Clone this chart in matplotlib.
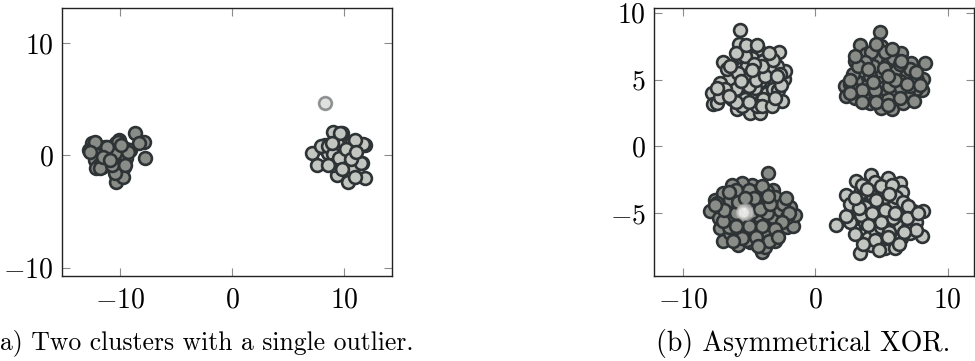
import matplotlib
matplotlib.use("Agg")
import matplotlib.pyplot as plt
from matplotlib.ticker import FixedLocator

plt.rcParams['mathtext.fontset'] = 'cm'
plt.rcParams['font.family'] = ['cmr10', 'DejaVu Serif']

# ---------------- data (a): two clusters with an outlier ----------------
a_left_x = [-12.5, -12.8, -12.05, -11.3, -10.4, -10.1, -9.5, -9.08, -12.2, -11.9,
            -11.45, -10.7, -10.1, -9.67, -10.4, -9.8, -10.4, -11.0, -10.6, -11.6,
            -9.5, -8.63, -7.89, -8.34, -7.74, -12.2, -12.7, -9.7, -10.45, -12.1,
            -11.8, -10.75, -10.45, -10.15, -11.2, -9.26, -9.55, -11.5, -10.9, -9.9]
a_left_y = [1.07, 0.47, 0.32, 0.77, 1.07, 1.37, 0.62, 0.47, -0.42, -0.87,
            -0.27, -0.87, -0.57, -1.02, -1.76, -1.76, -2.36, 0.18, 0.03, -1.02,
            -0.27, 1.96, 1.21, 1.07, -0.27, 1.2, 0.3, -1.9, -1.6, -1.16,
            -1.16, -0.87, 0.18, 1.22, 0.77, 0.32, -0.87, -0.12, -0.4, 0.9]
a_right_x = [9.05, 9.79, 11.88, 10.69, 9.35, 8.30, 7.93, 7.18, 7.62, 8.6,
             9.35, 10.4, 9.05, 9.94, 10.83, 11.58, 9.35, 10.4, 11.88, 10.98,
             9.64, 11.7, 10.98, 7.99, 8.6, 9.05, 9.05, 11.5, 8.6, 9.6,
             10.2, 9.8, 10.6, 8.9, 11.1]
a_right_y = [2.11, 1.96, 0.92, 1.21, 1.07, 0.92, 0.77, 0.18, -0.87, 0.18,
             0.18, 0.18, -0.87, -0.57, -1.16, -0.71, -1.76, -2.36, -2.05, -1.9,
             1.96, 0.98, 1.37, 0.86, 0.86, 0.12, -0.87, -0.71, -0.87, -0.2,
             0.6, -1.2, -0.3, 1.1, 0.3]
a_outlier_x = [8.30]
a_outlier_y = [4.64]

# ---------------- data (b): asymmetrical XOR ----------------
b_tl_x = [-5.67, -5.75, -4.84, -4.29, -2.74, -6.93, -7.81, -7.73, -5.92, -4.92,
          -4.17, -2.54, -2.36, -2.28, -6.80, -5.55, -4.79, -3.54, -4.42, -4.92,
          -3.66, -5.30, -6.17, -5.17, -4.17, -3.04, -2.91, -3.92, -6.17, -6.55,
          -5.67, -5.30, -3.16, -7.18, -3.92, -7.43, -6.30, -4.42, -3.41, -6.68,
          -5.17, -4.54, -3.16, -2.66, -4.42, -5.55,
          -6.0, -5.0, -4.5, -3.8, -5.8, -6.4, -4.0, -3.2, -5.3, -4.6,
          -6.8, -7.2, -5.0, -4.0, -3.3, -2.8, -2.6, -6.0, -6.5, -4.8,
          -3.5, -6.0, -5.2, -4.4, -2.9, -7.4, -5.6, -3.0]
b_tl_y = [8.70, 7.69, 7.39, 7.27, 7.09, 6.32, 4.01, 3.18, 2.81, 2.51,
          2.51, 3.38, 5.01, 5.64, 3.88, 5.89, 6.64, 4.89, 3.76, 3.88,
          4.01, 4.56, 5.14, 5.26, 4.89, 4.76, 6.02, 6.39, 4.39, 5.01,
          6.77, 3.51, 3.76, 4.76, 3.51, 3.26, 3.51, 5.64, 5.64, 5.76,
          6.02, 4.39, 4.26, 5.39, 3.01, 3.01,
          4.3, 4.5, 5.0, 5.3, 5.5, 6.0, 6.0, 6.5, 6.8, 6.2,
          4.3, 3.7, 3.3, 3.0, 3.0, 4.2, 4.6, 3.3, 3.8, 5.7,
          7.0, 7.0, 7.6, 7.6, 5.3, 4.4, 4.9, 3.6]
b_tr_x = [4.92, 3.41, 4.94, 6.50, 7.25, 8.33, 8.13, 8.08, 7.63, 2.23,
          2.36, 2.99, 4.12, 4.99, 5.82, 6.63, 2.99, 3.87, 3.36, 4.74,
          5.50, 6.12, 6.88, 6.38, 4.87, 3.84, 3.11, 2.86, 4.24, 5.25,
          6.00, 7.00, 7.38, 5.50, 4.62, 5.87, 7.13, 3.61, 2.61, 4.11,
          5.12, 6.38, 4.36,
          3.0, 3.5, 4.5, 5.6, 6.5, 7.2, 7.7, 7.6, 6.5, 5.3,
          4.2, 3.8, 3.2, 2.6, 4.0, 5.2, 6.0, 5.5, 4.4, 3.5,
          4.6, 5.5, 6.4, 7.5, 4.6, 5.8, 2.6, 6.9, 3.0, 7.9]
b_tr_y = [8.57, 7.59, 7.52, 7.02, 6.27, 6.27, 5.01, 4.21, 4.26, 4.51,
          3.76, 3.63, 3.26, 2.88, 2.76, 3.26, 6.39, 6.89, 5.64, 5.51,
          6.14, 5.64, 5.26, 4.89, 4.76, 4.51, 4.89, 5.39, 3.88, 3.76,
          4.01, 3.88, 4.76, 3.51, 6.64, 6.64, 5.76, 3.76, 4.64, 5.26,
          4.39, 6.14, 6.02,
          4.2, 4.2, 4.2, 4.5, 4.4, 4.5, 5.0, 5.6, 6.4, 7.1,
          7.1, 6.3, 6.0, 5.0, 5.8, 5.9, 5.0, 5.3, 4.8, 3.3,
          3.3, 3.1, 3.6, 3.4, 7.7, 7.3, 4.0, 4.7, 6.8, 4.6]
b_bl_x = [-3.54, -7.93, -7.55, -7.18, -6.93, -5.80, -4.92, -4.04, -3.79, -3.04,
          -2.16, -1.66, -1.53, -1.91, -3.16, -4.17, -4.79, -5.55, -6.30, -6.93,
          -7.43, -7.30, -6.43, -5.67, -4.67, -3.66, -3.16, -2.66, -2.79, -3.92,
          -4.67, -6.17, -6.68, -6.43, -5.67, -5.17, -4.17, -5.67, -4.42, -3.66,
          -6.55, -3.54, -5.17, -2.16, -3.66,
          -6.0, -5.0, -4.0, -3.0, -2.4, -2.0, -2.5, -3.0, -4.0, -5.0,
          -6.0, -7.0, -6.9, -6.0, -4.8, -4.2, -3.4, -5.8, -4.6, -3.6,
          -4.5, -5.5, -3.5, -6.2, -2.8, -7.6, -4.3, -2.2, -5.3, -6.5]
b_bl_y = [-2.01, -4.81, -4.01, -6.09, -7.09, -7.39, -7.14, -7.93, -7.51, -7.07,
          -6.02, -5.96, -5.14, -4.51, -3.26, -4.01, -2.88, -2.76, -2.88, -3.51,
          -4.26, -5.39, -6.52, -6.52, -6.27, -6.02, -5.26, -4.76, -4.01, -4.51,
          -4.51, -4.51, -5.26, -4.01, -3.76, -5.51, -5.26, -5.76, -3.38, -3.38,
          -6.02, -6.64, -6.99, -5.26, -5.01,
          -3.3, -3.3, -3.0, -3.8, -4.3, -5.0, -5.7, -6.2, -6.0, -6.0,
          -6.0, -5.6, -4.8, -5.0, -4.9, -4.7, -4.3, -4.2, -3.9, -3.7,
          -6.8, -6.9, -7.1, -7.1, -6.8, -4.4, -7.5, -3.9, -3.9, -3.4]
b_blob_x = [-5.3, -5.2, -5.45, -5.42]
b_blob_y = [-4.8, -5.0, -4.95, -4.89]
b_br_x = [4.24, 3.11, 5.50, 6.38, 6.58, 2.36, 1.61, 3.36, 4.24, 5.25,
          6.00, 7.13, 8.08, 8.13, 7.38, 6.88, 2.86, 3.11, 2.61, 3.74,
          4.12, 4.74, 5.87, 5.25, 4.62, 3.36, 3.99, 5.37, 6.38, 5.87,
          4.87, 3.74, 6.63, 4.49, 7.00, 5.75, 6.12, 3.11, 4.99, 6.50,
          4.36, 3.49, 7.38,
          3.5, 4.5, 5.0, 5.8, 6.6, 7.0, 7.6, 7.6, 6.7, 5.6,
          4.5, 3.6, 3.0, 2.3, 2.6, 3.3, 4.3, 5.3, 6.0, 5.0,
          4.0, 5.5, 6.3, 4.8, 3.9, 6.9, 7.8, 3.0, 5.6, 4.6]
b_br_y = [-2.13, -2.56, -2.38, -2.76, -3.43, -3.63, -5.89, -7.97, -7.39, -7.64,
          -7.64, -6.52, -6.72, -4.81, -4.81, -4.89, -4.64, -5.39, -5.64, -5.76,
          -4.26, -4.51, -4.14, -3.76, -3.13, -3.51, -6.89, -6.89, -6.02, -5.39,
          -5.26, -4.51, -5.01, -6.27, -6.02, -3.26, -3.76, -4.01, -6.02, -6.89,
          -3.76, -5.14, -5.39,
          -2.9, -2.7, -3.0, -2.9, -4.2, -4.5, -5.7, -6.3, -6.4, -6.4,
          -7.0, -7.3, -6.6, -5.2, -4.3, -4.6, -5.0, -4.8, -5.0, -5.7,
          -5.9, -6.8, -7.3, -7.8, -3.2, -5.4, -5.0, -3.9, -3.6, -4.0]

a_ticks_x = [-10, 0, 10]
a_ticks_y = [-10, 0, 10]
b_ticks_x = [-10, 0, 10]
b_ticks_y = [-5, 0, 5, 10]
captions = ["(a) Two clusters with a single outlier.", "(b) Asymmetrical XOR."]

EDGE = '#2e3335'
DARK = '#8a8c87'
LIGHT = '#c3c5c0'
S = 85
LW = 1.9
FS = 20

W, H = 975, 361
fig = plt.figure(figsize=(W / 100, H / 100), dpi=100)

def px_axes(x0, y0, x1, y1):
    return fig.add_axes([x0 / W, 1 - y1 / H, (x1 - x0) / W, (y1 - y0) / H])

def style(ax, xt, yt):
    ax.xaxis.set_major_locator(FixedLocator(xt))
    ax.yaxis.set_major_locator(FixedLocator(yt))
    ax.set_xticklabels([r'$%d$' % v for v in xt])
    ax.set_yticklabels([r'$%d$' % v for v in yt])
    ax.tick_params(direction='in', top=True, right=True, length=6, width=0.8,
                   color='#8c8c8c', labelsize=FS)
    ax.tick_params(axis='x', pad=8)
    ax.tick_params(axis='y', pad=6)
    for sp in ax.spines.values():
        sp.set_linewidth(1.0)
        sp.set_color('#222222')

ax1 = px_axes(62, 8, 392, 276)
ax1.scatter(a_left_x, a_left_y, s=S, c=DARK, edgecolors=EDGE, linewidths=LW, zorder=3)
ax1.scatter(a_right_x, a_right_y, s=S, c=LIGHT, edgecolors=EDGE, linewidths=LW, zorder=3)
ax1.scatter(a_outlier_x, a_outlier_y, s=S, c=LIGHT, edgecolors=EDGE, linewidths=LW,
            alpha=0.5, zorder=3)
ax1.set_xlim(-15.18, 14.3)
ax1.set_ylim(-10.75, 13.15)
style(ax1, a_ticks_x, a_ticks_y)

ax2 = px_axes(654, 8, 974, 276)
ax2.scatter(b_tl_x, b_tl_y, s=S, c=LIGHT, edgecolors=EDGE, linewidths=LW, zorder=3)
ax2.scatter(b_tr_x, b_tr_y, s=S, c=DARK, edgecolors=EDGE, linewidths=LW, zorder=3)
ax2.scatter(b_bl_x, b_bl_y, s=S, c=DARK, edgecolors=EDGE, linewidths=LW, zorder=3)
ax2.scatter(b_br_x, b_br_y, s=S, c=LIGHT, edgecolors=EDGE, linewidths=LW, zorder=3)
ax2.scatter(b_blob_x, b_blob_y, s=S, c='#f2f2f0', edgecolors='#b4b5b2', linewidths=LW,
            alpha=0.5, zorder=4)
ax2.set_xlim(-12.18, 12.0)
ax2.set_ylim(-9.71, 10.36)
style(ax2, b_ticks_x, b_ticks_y)

fig.text(413 / W, 1 - 350 / H, captions[0], ha='right', va='baseline', fontsize=18.5,
         family=['cmr10', 'DejaVu Serif'])
fig.text(803 / W, 1 - 351 / H, captions[1], ha='center', va='baseline', fontsize=FS,
         family=['cmr10', 'DejaVu Serif'])

fig.savefig('out.png', dpi=100)
